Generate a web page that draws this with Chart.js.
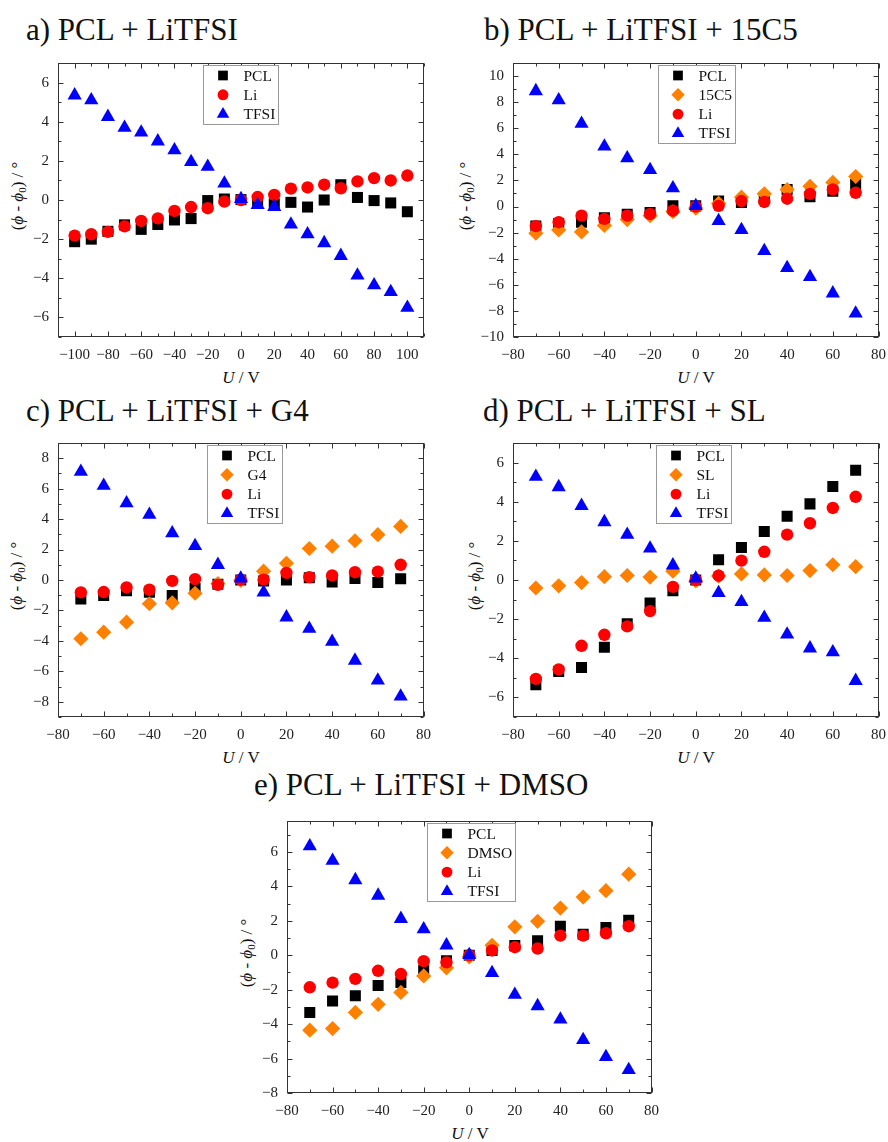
<!DOCTYPE html>
<html>
<head>
<meta charset="utf-8">
<script src="https://cdn.jsdelivr.net/npm/chart.js@4.4.1/dist/chart.umd.min.js"></script>
<style>
  body { margin: 0; background: #fff; }
  #page { position: relative; width: 888px; height: 1142px; font-family: "Liberation Serif", "Times New Roman", serif; color: #111; overflow: hidden; }
  .ttl { position: absolute; font-size: 31px; line-height: 1; white-space: nowrap; }
  .xt { position: absolute; font-size: 17px; width: 120px; text-align: center; line-height: 1; }
  .yt { position: absolute; font-size: 17px; line-height: 1; white-space: nowrap; transform: translate(-50%, -50%) rotate(-90deg); }
  .yt sub { font-size: 11px; vertical-align: -3px; }
  canvas { position: absolute; }
</style>
</head>
<body>
<div id="page">
  <div class="ttl" style="left:26px;top:14px">a) PCL + LiTFSI</div>
  <div class="ttl" style="left:484px;top:14px">b) PCL + LiTFSI + 15C5</div>
  <div class="ttl" style="left:26px;top:395px">c) PCL + LiTFSI + G4</div>
  <div class="ttl" style="left:483px;top:395px">d) PCL + LiTFSI + SL</div>
  <div class="ttl" style="left:254px;top:769px">e) PCL + LiTFSI + DMSO</div>

  <div class="xt" style="left:181px;top:369px"><i>U</i> / V</div>
  <div class="xt" style="left:636px;top:369px"><i>U</i> / V</div>
  <div class="xt" style="left:181px;top:749px"><i>U</i> / V</div>
  <div class="xt" style="left:636px;top:749px"><i>U</i> / V</div>
  <div class="xt" style="left:410px;top:1125px"><i>U</i> / V</div>

  <div class="yt" style="left:18px;top:196px">(<i>ϕ</i> - <i>ϕ</i><sub>0</sub>) / °</div>
  <div class="yt" style="left:466px;top:196px">(<i>ϕ</i> - <i>ϕ</i><sub>0</sub>) / °</div>
  <div class="yt" style="left:17px;top:576px">(<i>ϕ</i> - <i>ϕ</i><sub>0</sub>) / °</div>
  <div class="yt" style="left:475px;top:576px">(<i>ϕ</i> - <i>ϕ</i><sub>0</sub>) / °</div>
  <div class="yt" style="left:247px;top:953px">(<i>ϕ</i> - <i>ϕ</i><sub>0</sub>) / °</div>

  <canvas id="cA"></canvas>
  <canvas id="cB"></canvas>
  <canvas id="cC"></canvas>
  <canvas id="cD"></canvas>
  <canvas id="cE"></canvas>
</div>

<script>
// voltages
const uA = [-100, -90, -80, -70, -60, -50, -40, -30, -20, -10, 0, 10, 20, 30, 40, 50, 60, 70, 80, 90, 100];
const u70 = [-70, -60, -50, -40, -30, -20, -10, 0, 10, 20, 30, 40, 50, 60, 70];

// a) PCL + LiTFSI
const pclA  = [-2.13, -2.0, -1.6, -1.27, -1.5, -1.25, -1.02, -0.95, -0.03, 0.05, 0.02, -0.05, -0.2, -0.12, -0.36, 0, 0.78, 0.13, -0.03, -0.15, -0.6];
const liA   = [-1.82, -1.75, -1.63, -1.35, -1.07, -0.94, -0.56, -0.36, -0.42, -0.08, 0, 0.15, 0.26, 0.58, 0.64, 0.78, 0.6, 0.95, 1.12, 1.0, 1.25];
const tfsiA = [5.35, 5.1, 4.25, 3.7, 3.45, 3.0, 2.55, 1.95, 1.7, 0.85, 0.05, -0.25, -0.35, -1.25, -1.75, -2.2, -2.85, -3.85, -4.35, -4.7, -5.5];

// b) PCL + LiTFSI + 15C5
const pclB  = [-1.5, -1.3, -1.2, -0.87, -0.6, -0.45, 0.05, 0.05, 0.42, 0.3, 0.67, 1.3, 0.75, 1.17, 1.7];
const c5B   = [-2.05, -1.8, -1.95, -1.45, -1.0, -0.7, -0.4, -0.12, 0.25, 0.72, 0.97, 1.3, 1.55, 1.85, 2.3];
const liB   = [-1.5, -1.2, -0.7, -0.95, -0.7, -0.57, -0.32, 0, 0.05, 0.42, 0.35, 0.6, 0.97, 1.3, 1.05];
const tfsiB = [8.85, 8.15, 6.35, 4.6, 3.7, 2.8, 1.4, 0.05, -1.1, -1.8, -3.4, -4.7, -5.4, -6.65, -8.2];

// c) PCL + LiTFSI + G4
const pclC  = [-1.24, -1.02, -0.7, -0.8, -1.02, -0.55, -0.28, 0, -0.06, 0, 0.15, -0.13, 0.1, -0.17, 0.08];
const g4C   = [-3.86, -3.43, -2.77, -1.56, -1.5, -0.87, -0.23, -0.02, 0.58, 1.1, 2.07, 2.22, 2.58, 2.98, 3.52];
const liC   = [-0.81, -0.79, -0.49, -0.64, -0.06, 0.06, -0.32, 0.02, 0.02, 0.47, 0.19, 0.3, 0.51, 0.55, 1.0];
const tfsiC = [7.12, 6.2, 5.05, 4.29, 3.07, 2.24, 1.0, 0.1, -0.81, -2.45, -3.2, -4.05, -5.29, -6.6, -7.65];

// d) PCL + LiTFSI + SL
const pclD  = [-5.35, -4.68, -4.47, -3.44, -2.23, -1.18, -0.55, 0, 1.03, 1.66, 2.48, 3.26, 3.89, 4.78, 5.61];
const slD   = [-0.41, -0.3, -0.13, 0.17, 0.23, 0.15, 0.45, -0.05, 0.2, 0.31, 0.26, 0.23, 0.48, 0.78, 0.68];
const liD   = [-5.05, -4.57, -3.36, -2.8, -2.37, -1.59, -0.35, 0, 0.22, 0.99, 1.44, 2.32, 2.9, 3.68, 4.25];
const tfsiD = [5.28, 4.75, 3.79, 2.96, 2.32, 1.61, 0.75, 0.08, -0.66, -1.12, -1.92, -2.78, -3.49, -3.69, -5.15];

// e) PCL + LiTFSI + DMSO
const pclE  = [-3.32, -2.66, -2.35, -1.76, -1.58, -0.88, -0.32, 0, 0.28, 0.56, 0.84, 1.69, 1.22, 1.61, 2.03];
const dmsoE = [-4.35, -4.26, -3.32, -2.85, -2.16, -1.2, -0.73, -0.09, 0.58, 1.65, 1.97, 2.74, 3.38, 3.75, 4.71];
const liE   = [-1.86, -1.59, -1.37, -0.9, -1.09, -0.34, -0.41, 0, 0.28, 0.47, 0.39, 1.14, 1.14, 1.28, 1.69];
const tfsiE = [6.34, 5.5, 4.37, 3.47, 2.12, 1.52, 0.58, 0.02, -1.03, -2.29, -2.95, -3.73, -4.92, -5.91, -6.66];

// tick labels
const xTicksA = [-100, -80, -60, -40, -20, 0, 20, 40, 60, 80, 100];
const xTicks70 = [-80, -60, -40, -20, 0, 20, 40, 60, 80];
const yTicksA = [-6, -4, -2, 0, 2, 4, 6];
const yTicksB = [-10, -8, -6, -4, -2, 0, 2, 4, 6, 8, 10];
const yTicksC = [-8, -6, -4, -2, 0, 2, 4, 6, 8];
const yTicksE = [-8, -6, -4, -2, 0, 2, 4, 6];

const FONT = '"Liberation Serif", "Times New Roman", serif';
const marker = {
  PCL:  { style: 'rect', r: 7.8, color: '#000000' },
  add:  { style: 'rectRot', r: 7.6, color: '#ff8000' },
  Li:   { style: 'circle', r: 6.2, color: '#ff0000' },
  TFSI: { style: 'triangle', r: 8.2, color: '#0000ff' }
};

function drawMarker(ctx, style, r, x, y) {
  ctx.beginPath();
  if (style === 'circle') {
    ctx.arc(x, y, r, 0, Math.PI * 2);
  } else if (style === 'rect') {
    const s = r * Math.SQRT1_2;
    ctx.rect(x - s, y - s, 2 * s, 2 * s);
  } else if (style === 'rectRot') {
    ctx.moveTo(x - r, y); ctx.lineTo(x, y - r); ctx.lineTo(x + r, y); ctx.lineTo(x, y + r); ctx.closePath();
  } else {
    ctx.moveTo(x, y - r);
    ctx.lineTo(x + r * 0.866, y + r * 0.5);
    ctx.lineTo(x - r * 0.866, y + r * 0.5);
    ctx.closePath();
  }
  ctx.fill();
}

function minorsOf(ticks, min, max) {
  const step = ticks[1] - ticks[0];
  const out = [];
  for (let v = ticks[0] - step / 2; v <= max + 1e-9; v += step) if (v >= min - 1e-9) out.push(v);
  return out;
}

// frame with inward ticks on all four sides
const framePlugin = {
  id: 'frame',
  afterDatasetsDraw(chart, args, opts) {
    const { ctx, chartArea: a, scales: { x, y } } = chart;
    const L = Math.round(a.left) + 0.5, R = Math.round(a.right) - 0.5;
    const T = Math.round(a.top) + 0.5, B = Math.round(a.bottom) - 0.5;
    ctx.save();
    ctx.strokeStyle = '#333';
    ctx.lineWidth = 1;
    ctx.strokeRect(L, T, R - L, B - T);
    ctx.beginPath();
    const xs = [[opts.xMajor, 5], [minorsOf(opts.xMajor, x.min, x.max), 3]];
    xs.forEach(([vals, len]) => vals.forEach(v => {
      const p = Math.round(x.getPixelForValue(v)) + 0.5;
      ctx.moveTo(p, B); ctx.lineTo(p, B - len);
      ctx.moveTo(p, T); ctx.lineTo(p, T + len);
    }));
    const ys = [[opts.yMajor, 5], [minorsOf(opts.yMajor, y.min, y.max), 3]];
    ys.forEach(([vals, len]) => vals.forEach(v => {
      const p = Math.round(y.getPixelForValue(v)) + 0.5;
      ctx.moveTo(L, p); ctx.lineTo(L + len, p);
      ctx.moveTo(R, p); ctx.lineTo(R - len, p);
    }));
    ctx.stroke();
    ctx.restore();
  }
};

// boxed legend inside the plot area
const boxLegend = {
  id: 'boxLegend',
  afterDraw(chart, args, opts) {
    const { ctx, chartArea: a } = chart;
    const sets = chart.data.datasets;
    ctx.save();
    ctx.font = '15.5px ' + FONT;
    const tw = Math.max(...sets.map(d => ctx.measureText(d.label).width));
    const x0 = Math.round(a.left + opts.dx) + 0.5, y0 = Math.round(a.top + 2) + 0.5;
    const gap = 19.3;
    const w = Math.round(40 + tw + 3), h = Math.round((sets.length - 1) * gap + 20);
    ctx.fillStyle = '#fff';
    ctx.fillRect(x0, y0, w, h);
    ctx.strokeStyle = '#999';
    ctx.lineWidth = 1;
    ctx.strokeRect(x0, y0, w, h);
    sets.forEach((d, i) => {
      const cy = y0 + 10 + i * gap;
      ctx.fillStyle = d.pointBackgroundColor;
      drawMarker(ctx, d.pointStyle, d.pointRadius * 0.88, x0 + 19.5, cy);
      ctx.fillStyle = '#111';
      ctx.textBaseline = 'middle';
      ctx.textAlign = 'left';
      ctx.fillText(d.label, x0 + 40, cy + 1);
    });
    ctx.restore();
  }
};

const fmt = v => String(v).replace('-', '\u2212');

function makeChart(id, area, u, series, xr, yr, xMajor, yMajor, dx) {
  const el = document.getElementById(id);
  const left = area[0] - 58, top = area[2] - 10;
  const w = area[1] - area[0] + 58 + 16, h = area[3] - area[2] + 10 + 30;
  el.style.left = left + 'px';
  el.style.top = top + 'px';
  el.width = w; el.height = h;
  el.style.width = w + 'px'; el.style.height = h + 'px';
  const n = series.length;
  const tickFont = { family: FONT, size: 15 };
  new Chart(el, {
    type: 'scatter',
    data: {
      datasets: series.map((s, i) => ({
        label: s.name,
        data: u.map((x, j) => ({ x: x, y: s.y[j] })),
        pointStyle: s.m.style,
        pointRadius: s.m.r,
        pointBackgroundColor: s.m.color,
        pointBorderWidth: 0,
        order: n - i
      }))
    },
    options: {
      responsive: false,
      animation: false,
      devicePixelRatio: 1,
      events: [],
      layout: { padding: { left: 0, top: 10, right: 16, bottom: 0 } },
      plugins: {
        legend: { display: false },
        tooltip: { enabled: false },
        frame: { xMajor: xMajor, yMajor: yMajor },
        boxLegend: { dx: dx }
      },
      scales: {
        x: {
          type: 'linear', min: xr[0], max: xr[1],
          afterBuildTicks: s => { s.ticks = xMajor.map(v => ({ value: v })); },
          afterFit: s => { s.height = 30; },
          grid: { display: false, drawTicks: false },
          border: { display: false },
          ticks: { font: tickFont, color: '#222', padding: 9, maxRotation: 0, autoSkip: false, callback: fmt }
        },
        y: {
          type: 'linear', min: yr[0], max: yr[1],
          afterBuildTicks: s => { s.ticks = yMajor.map(v => ({ value: v })); },
          afterFit: s => { s.width = 58; },
          grid: { display: false, drawTicks: false },
          border: { display: false },
          ticks: { font: tickFont, color: '#222', padding: 9, autoSkip: false, callback: fmt }
        }
      }
    },
    plugins: [framePlugin, boxLegend]
  });
}

makeChart('cA', [58, 424, 55, 337], uA, [
  { name: 'PCL', y: pclA, m: marker.PCL },
  { name: 'Li', y: liA, m: marker.Li },
  { name: 'TFSI', y: tfsiA, m: marker.TFSI }
], [-110, 110], [-7, 7], xTicksA, yTicksA, 145);

makeChart('cB', [513, 879, 55, 337], u70, [
  { name: 'PCL', y: pclB, m: marker.PCL },
  { name: '15C5', y: c5B, m: marker.add },
  { name: 'Li', y: liB, m: marker.Li },
  { name: 'TFSI', y: tfsiB, m: marker.TFSI }
], [-80, 80], [-10, 11], xTicks70, yTicksB, 145);

makeChart('cC', [58, 424, 435, 717], u70, [
  { name: 'PCL', y: pclC, m: marker.PCL },
  { name: 'G4', y: g4C, m: marker.add },
  { name: 'Li', y: liC, m: marker.Li },
  { name: 'TFSI', y: tfsiC, m: marker.TFSI }
], [-80, 80], [-9, 9], xTicks70, yTicksC, 149);

makeChart('cD', [513, 879, 435, 717], u70, [
  { name: 'PCL', y: pclD, m: marker.PCL },
  { name: 'SL', y: slD, m: marker.add },
  { name: 'Li', y: liD, m: marker.Li },
  { name: 'TFSI', y: tfsiD, m: marker.TFSI }
], [-80, 80], [-7, 7], xTicks70, yTicksA, 143);

makeChart('cE', [287, 652, 813, 1093], u70, [
  { name: 'PCL', y: pclE, m: marker.PCL },
  { name: 'DMSO', y: dmsoE, m: marker.add },
  { name: 'Li', y: liE, m: marker.Li },
  { name: 'TFSI', y: tfsiE, m: marker.TFSI }
], [-80, 80], [-8, 7.8], xTicks70, yTicksE, 140);
</script>
</body>
</html>
